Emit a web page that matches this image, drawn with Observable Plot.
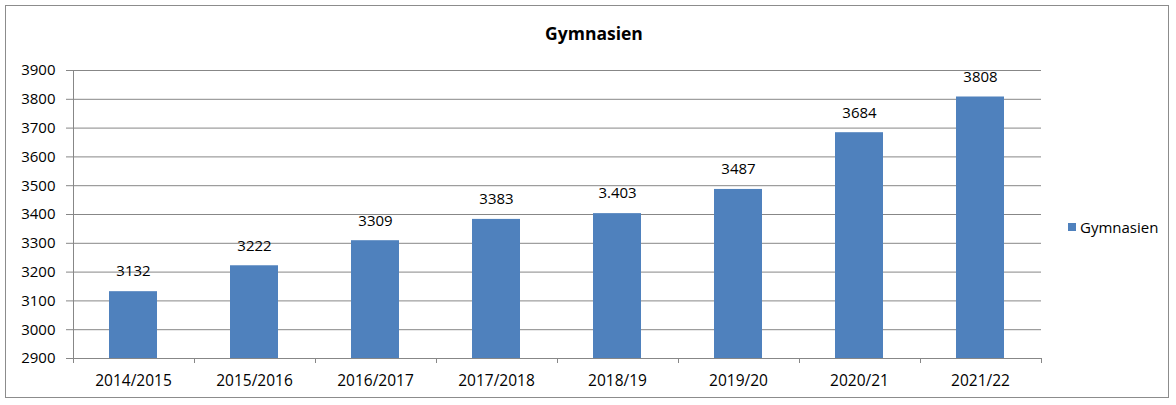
<!DOCTYPE html>
<html>
<head>
<meta charset="utf-8">
<script src="https://cdn.jsdelivr.net/npm/d3@7"></script>
<script src="https://cdn.jsdelivr.net/npm/@observablehq/plot@0.6"></script>
<style>
  html, body { margin: 0; padding: 0; background: #fff; }
  #wrap { position: relative; width: 1176px; height: 405px; font-family: "Open Sans", "Noto Sans", sans-serif; }
  #frame { position: absolute; left: 5px; top: 5px; width: 1164px; height: 393px; border: 1px solid #8c8c8c; box-sizing: border-box; }
  #title { position: absolute; left: 0; top: 21px; width: 1176px; text-align: center; font-size: 17.5px; font-weight: bold; color: #000; padding-left: 12px; box-sizing: border-box; }
  #legend { position: absolute; left: 1068px; top: 217px; font-size: 15px; color: #000; display: flex; align-items: center; }
  #legend span.sw { display: inline-block; width: 8px; height: 8px; background: #4F81BD; margin-right: 4px; }
  #chart { position: absolute; left: 0; top: 0; }
</style>
</head>
<body>
<div id="wrap">
  <div id="frame"></div>
  <div id="chart"></div>
  <div id="title">Gymnasien</div>
  <div id="legend"><span class="sw"></span><span>Gymnasien</span></div>
</div>
<script>
const categories = ["2014/2015", "2015/2016", "2016/2017", "2017/2018", "2018/19", "2019/20", "2020/21", "2021/22"];
const values = [3132, 3222, 3309, 3383, 3403, 3487, 3684, 3808];
const valueLabels = ["3132", "3222", "3309", "3383", "3.403", "3487", "3684", "3808"];
const yTicks = [2900, 3000, 3100, 3200, 3300, 3400, 3500, 3600, 3700, 3800, 3900];

const data = categories.map((c, i) => ({cat: c, value: values[i], label: valueLabels[i]}));
const gridColor = "#878787";

const chart = Plot.plot({
  width: 1176,
  height: 405,
  marginLeft: 72,
  marginRight: 135,
  marginTop: 70,
  marginBottom: 47,
  style: {fontFamily: "'Open Sans', 'Noto Sans', sans-serif", fontSize: "14px", color: "#000", background: "transparent"},
  x: {domain: categories, paddingInner: 0.6, paddingOuter: 0.3, label: null},
  y: {domain: [2900, 3900], label: null},
  marks: [
    Plot.ruleY(yTicks, {stroke: gridColor, strokeWidth: 1, strokeOpacity: 1}),
    Plot.barY(data, {x: "cat", y1: 2900, y2: "value", fill: "#4F81BD"}),
    Plot.text(data, {x: "cat", y: "value", text: "label", dy: -20, fontSize: 15, fill: "#000"}),
    Plot.axisY({ticks: yTicks, tickSize: 6, tickPadding: 11, stroke: gridColor, fontSize: 15, tickFormat: d => String(d)}),
    Plot.axisX({tickSize: 0, tickPadding: 16, fontSize: 15.5})
  ]
});

// x boundary ticks computed from the band scale
const xs = chart.scale("x");
const ys = chart.scale("y");
const gap = (xs.step - xs.bandwidth) / 2;
const bounds = categories.map(c => xs.apply(c) - gap).concat([xs.apply(categories[categories.length - 1]) + xs.bandwidth + gap]);
const y0 = ys.apply(2900);
const svg = d3.select(chart);
svg.append("g").selectAll("line").data(bounds).join("line")
  .attr("x1", d => Math.round(d) + 0.5).attr("x2", d => Math.round(d) + 0.5)
  .attr("y1", y0).attr("y2", y0 + 5)
  .attr("stroke", gridColor);
// left axis line
const yTop = ys.apply(3900);
svg.append("line")
  .attr("x1", Math.round(bounds[0]) + 0.5).attr("x2", Math.round(bounds[0]) + 0.5).attr("y1", yTop).attr("y2", y0 + 5)
  .attr("stroke", gridColor);

document.getElementById("chart").appendChild(chart);
</script>
</body>
</html>
